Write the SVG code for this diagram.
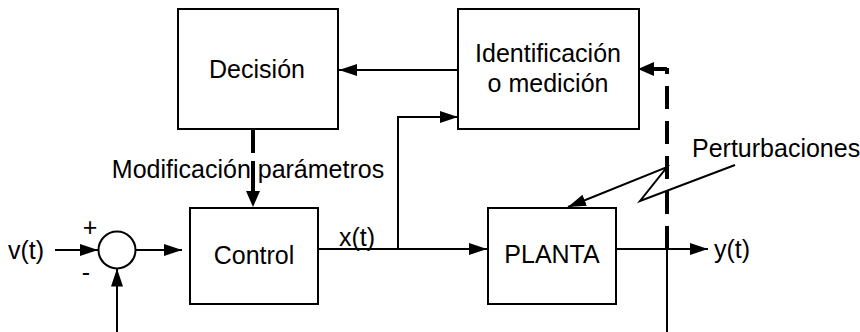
<svg xmlns="http://www.w3.org/2000/svg" width="860" height="332" viewBox="0 0 860 332">
<style>
.box{fill:#fff;stroke:#000;stroke-width:2}
.ln{fill:none;stroke:#000;stroke-width:2}
.thick{fill:none;stroke:#000;stroke-width:4}
.t{font-family:"Liberation Sans",Arial,sans-serif;font-size:25px;fill:#000}
.c{text-anchor:middle}
</style>
<defs>
<marker id="ah" markerUnits="userSpaceOnUse" markerWidth="20" markerHeight="14" refX="18" refY="6" orient="auto">
<path d="M0,0 L18,6 L0,12 z" fill="#000"/>
</marker>
<marker id="ahb" markerUnits="userSpaceOnUse" markerWidth="20" markerHeight="14" refX="0" refY="7" orient="auto">
<path d="M0,0 L16,7 L0,14 z" fill="#000"/>
</marker>
</defs>
<rect width="860" height="332" fill="#fff"/>
<g id="connectors">
<path class="ln" d="M458,70 H339" marker-end="url(#ah)"/>
<path class="ln" d="M55,250 H98" marker-end="url(#ah)"/>
<path class="ln" d="M136,250 H182" marker-end="url(#ah)"/>
<path class="ln" d="M117,332 V268.5" marker-end="url(#ah)"/>
<path class="ln" d="M318,249 H487" marker-end="url(#ah)"/>
<path class="ln" d="M398,249 V117 H458" marker-end="url(#ah)"/>
<path class="ln" d="M616,249 H708" marker-end="url(#ah)"/>
<path class="ln" d="M667,249 V332"/>
<path class="thick" d="M253,129 V153 M253,161 V191" marker-end="url(#ahb)"/>
<path class="thick" d="M667,249 V68" stroke-dasharray="23 12"/>
<path class="thick" d="M667,69 H654" marker-end="url(#ahb)"/>
<path class="ln" d="M735,165 L640,201 L667,167 L568,207" marker-end="url(#ah)"/>
</g>
<g id="decision">
<rect class="box" x="178" y="9" width="160" height="120"/>
<text class="t c" x="257" y="78">Decisión</text>
</g>
<g id="identificacion">
<rect class="box" x="458" y="9" width="181" height="120"/>
<text class="t c" x="548" y="62">Identificación</text>
<text class="t c" x="548" y="92">o medición</text>
</g>
<g id="sumador">
<circle class="ln" cx="117" cy="250" r="18.5" fill="#fff"/>
<text class="t c" x="90" y="236">+</text>
<text class="t c" x="86" y="281">-</text>
</g>
<g id="control">
<rect class="box" x="190" y="208" width="128" height="96"/>
<text class="t c" x="254" y="264">Control</text>
</g>
<g id="planta">
<rect class="box" x="488" y="208" width="128" height="96"/>
<text class="t c" x="552" y="263">PLANTA</text>
</g>
<g id="labels">
<text class="t" x="8" y="259">v(t)</text>
<text class="t" x="339" y="246">x(t)</text>
<text class="t" x="714" y="258">y(t)</text>
<text class="t c" x="248" y="178">Modificación parámetros</text>
<text class="t" x="692" y="157">Perturbaciones</text>
</g>
</svg>
